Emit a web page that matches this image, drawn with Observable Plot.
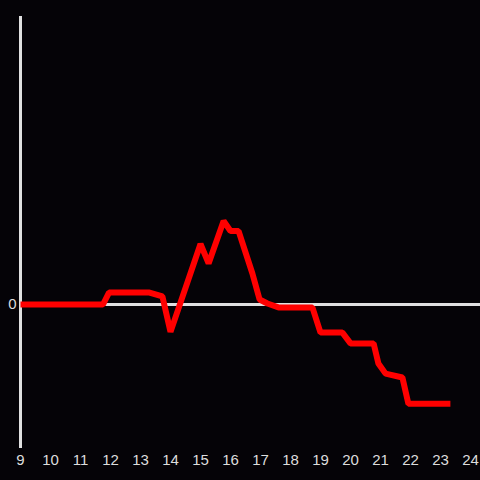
<!DOCTYPE html>
<html>
<head>
<meta charset="utf-8">
<script src="https://cdn.jsdelivr.net/npm/d3@7"></script>
<script src="https://cdn.jsdelivr.net/npm/@observablehq/plot@0.6"></script>
<style>
  html, body { margin: 0; padding: 0; background: #050307; }
  #chart { width: 480px; height: 480px; }
</style>
</head>
<body>
<div id="chart"></div>
<script>
const xs = [9, 11.75, 11.95, 13.3, 13.73, 14, 15, 15.27, 15.77, 16, 16.27, 16.73, 16.97, 17.23, 17.6, 18.73, 19, 19.73, 20, 20.77, 20.93, 21.17, 21.73, 21.93, 23.33];
const ys = [0, 0, 0.083, 0.083, 0.056, -0.19, 0.42, 0.285, 0.58, 0.51, 0.51, 0.215, 0.035, 0.007, -0.02, -0.02, -0.195, -0.195, -0.27, -0.27, -0.41, -0.48, -0.507, -0.69, -0.69];
const xTicks = [9, 10, 11, 12, 13, 14, 15, 16, 17, 18, 19, 20, 21, 22, 23, 24];
const yTicks = [0];

const data = xs.map((x, i) => ({x, y: ys[i]}));

const chart = Plot.plot({
  width: 480,
  height: 480,
  marginLeft: 20,
  marginRight: 0,
  marginTop: 16,
  marginBottom: 32,
  style: { background: "#050307", color: "#dddddd", fontFamily: "'Liberation Sans', Arial, sans-serif", fontSize: "15px" },
  x: { domain: [9, 24 + 1/3], ticks: xTicks, tickSize: 0, tickPadding: 6, tickFormat: d => String(d), label: null },
  y: { domain: [-1, 2], ticks: yTicks, tickSize: 0, tickPadding: 4, tickFormat: d => String(d), label: null },
  marks: [
    Plot.ruleY([0], { stroke: "#e0e0e0", strokeWidth: 3 }),
    Plot.ruleX([9], { y1: -1, y2: 2, stroke: "#e0e0e0", strokeWidth: 3 }),
    Plot.line(data, { x: "x", y: "y", stroke: "#ff0000", strokeWidth: 6, strokeLinejoin: "miter", strokeLinecap: "butt" })
  ]
});
document.getElementById("chart").appendChild(chart);
</script>
</body>
</html>
